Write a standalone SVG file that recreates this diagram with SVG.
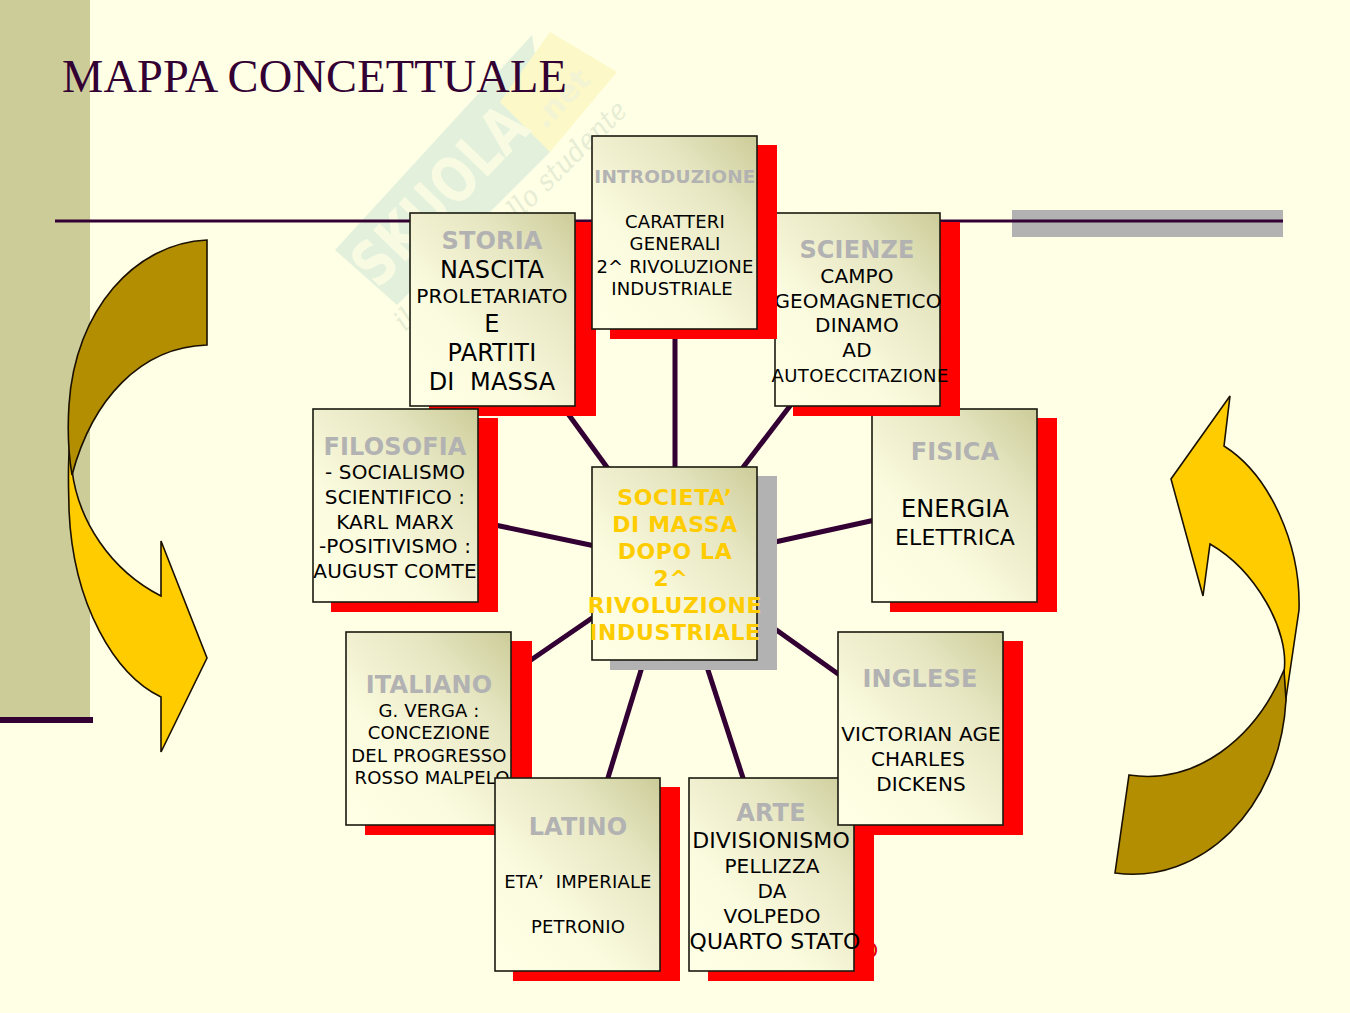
<svg xmlns="http://www.w3.org/2000/svg" width="1350" height="1013" viewBox="0 0 1350 1013">
<style>
text{font-family:"DejaVu Sans",sans-serif;text-anchor:middle;fill:#000;letter-spacing:.15px}
.h{font-weight:700;fill:#b2b2b2;font-size:24px}
.y{font-weight:700;fill:#ffcc00;font-size:22px;letter-spacing:.6px}
.s{fill:#ff0000}
.b{fill:url(#g);stroke:#1a1a10;stroke-width:1.6}
.c line{stroke:#330033;stroke-width:5}
.a{stroke:#1a1000;stroke-width:1.6;stroke-linejoin:miter}
</style>
<defs>
<linearGradient id="g" x1=".1" y1="1" x2="1" y2="0"><stop offset="0" stop-color="#ffffe5"/><stop offset=".3" stop-color="#fbfbdf"/><stop offset=".7" stop-color="#e6e6c2"/><stop offset="1" stop-color="#cccc99"/></linearGradient>
</defs>
<rect width="1350" height="1013" fill="#ffffe5"/>
<g id="watermark">
<polygon points="335,250 532,35 550,152 397,305" fill="#e2f0dc"/>
<polygon points="550,32 617,72 550,152 500,102" fill="#fcf8c8"/>
<text transform="translate(378,290) rotate(-46)" style="text-anchor:start;font-weight:700;font-size:62px;fill:#f8fbe2" textLength="222" lengthAdjust="spacingAndGlyphs">SKUOLA</text>
<text transform="translate(545,130) rotate(-46)" style="text-anchor:start;font-weight:700;font-size:30px;fill:#f2f4d4">.net</text>
<text transform="translate(405,332) rotate(-44.500)" style="text-anchor:start;font-family:'DejaVu Serif',serif;font-style:italic;font-size:28px;fill:#e6edd4" textLength="314" lengthAdjust="spacingAndGlyphs">il portale dello studente</text>
</g>
<rect x="0" y="0" width="90" height="717" fill="#cccc99"/>
<rect x="0" y="717" width="93" height="6" fill="#330033"/>
<rect x="1012" y="210" width="271" height="27" fill="#b2b2b2"/>
<rect x="55" y="219.500" width="1228" height="3" fill="#330033"/>
<text x="62" y="92" style="text-anchor:start;font-family:'Liberation Serif',serif;font-size:46px;fill:#330033" textLength="505" lengthAdjust="spacingAndGlyphs">MAPPA CONCETTUALE</text>
<g id="arrow-left">
<path class="a" fill="#ffcc00" d="M70,440C67,470 69,495 69,510C73,605 115,675 161,697V752L207,658L161,541V596C110,570 78,520 72,470Z"/>
<path class="a" fill="#b28e00" d="M207,240V345C140,347 92,400 72,475C67,445 68,420 69,405C75,310 135,243 207,240Z"/>
</g>
<g id="arrow-right">
<path class="a" fill="#ffcc00" d="M1230,396L1171,479L1203,596L1210,544C1255,570 1290,630 1284,672L1285,705L1299,610C1301,545 1270,475 1224,446Z"/>
<path class="a" fill="#b28e00" d="M1284,670C1255,740 1195,785 1129,775L1115,873C1200,885 1280,810 1286,700Z"/>
</g>
<g id="connectors" class="c">
<line x1="675" y1="335" x2="675" y2="470"/>
<line x1="566" y1="411" x2="609" y2="470"/>
<line x1="793" y1="402" x2="741" y2="470"/>
<line x1="495" y1="525" x2="595" y2="546"/>
<line x1="875" y1="520" x2="775" y2="542"/>
<line x1="528" y1="662" x2="595" y2="616"/>
<line x1="841" y1="676" x2="775" y2="629"/>
<line x1="607" y1="781" x2="642" y2="667"/>
<line x1="744" y1="781" x2="707" y2="667"/>
</g>
<g id="fisica">
<rect class="s" x="890" y="418" width="167" height="194"/><rect class="b" x="872" y="409" width="165" height="193"/>
<text class="h" x="955" y="460">FISICA</text>
<text x="955" y="517" font-size="24">ENERGIA</text>
<text x="955" y="545" font-size="22" textLength="120">ELETTRICA</text>
</g>
<g id="scienze">
<text x="871" y="392" font-size="18" style="fill:#cc0000" textLength="177">AUTOECCITAZIONE</text>
<rect class="s" x="793" y="222" width="167" height="194"/><rect class="b" x="775" y="213" width="165" height="193"/>
<text class="h" x="857" y="258">SCIENZE</text>
<text x="857" y="283" font-size="20">CAMPO</text>
<text x="858" y="308" font-size="20">GEOMAGNETICO</text>
<text x="857" y="332" font-size="20">DINAMO</text>
<text x="857" y="357" font-size="20">AD</text>
<text x="860" y="382" font-size="18" textLength="177">AUTOECCITAZIONE</text>
</g>
<g id="storia">
<rect class="s" x="429" y="222" width="167" height="194"/><rect class="b" x="410" y="213" width="165" height="193"/>
<text class="h" x="492" y="249">STORIA</text>
<text x="492" y="278" font-size="24" textLength="104">NASCITA</text>
<text x="492" y="303" font-size="20">PROLETARIATO</text>
<text x="492" y="332" font-size="24">E</text>
<text x="492" y="361" font-size="24">PARTITI</text>
<text x="492" y="390" font-size="24" xml:space="preserve">DI  MASSA</text>
</g>
<g id="filosofia">
<rect class="s" x="331" y="418" width="167" height="194"/><rect class="b" x="313" y="409" width="165" height="193"/>
<text class="h" x="395" y="455">FILOSOFIA</text>
<text x="395" y="479" font-size="20">- SOCIALISMO</text>
<text x="395" y="504" font-size="20">SCIENTIFICO :</text>
<text x="395" y="529" font-size="20">KARL MARX</text>
<text x="395" y="553" font-size="20">-POSITIVISMO :</text>
<text x="395" y="578" font-size="20">AUGUST COMTE</text>
</g>
<g id="introduzione">
<rect class="s" x="610" y="145" width="167" height="194"/><rect class="b" x="592" y="136" width="165" height="193"/>
<text class="h" x="675" y="183" style="font-size:18.500px">INTRODUZIONE</text>
<text x="675" y="228" font-size="18">CARATTERI</text>
<text x="675" y="250" font-size="18">GENERALI</text>
<text x="675" y="273" font-size="18">2^ RIVOLUZIONE</text>
<text x="672" y="295" font-size="18">INDUSTRIALE</text>
</g>
<g id="centro">
<rect x="610" y="476" width="167" height="194" fill="#b2b2b2"/><rect class="b" x="592" y="467" width="165" height="193"/>
<text class="y" x="675" y="505">SOCIETA’</text>
<text class="y" x="675" y="532">DI MASSA</text>
<text class="y" x="675" y="559">DOPO LA</text>
<text class="y" x="671" y="586">2^</text>
<text class="y" x="675" y="613">RIVOLUZIONE</text>
<text class="y" x="675" y="640">INDUSTRIALE</text>
</g>
<g id="italiano">
<rect class="s" x="365" y="641" width="167" height="194"/><rect class="b" x="346" y="632" width="165" height="193"/>
<text class="h" x="429" y="693">ITALIANO</text>
<text x="429" y="717" font-size="18">G. VERGA :</text>
<text x="429" y="739" font-size="18">CONCEZIONE</text>
<text x="429" y="762" font-size="18">DEL PROGRESSO</text>
<text x="432" y="784" font-size="18">ROSSO MALPELO</text>
</g>
<g id="latino">
<rect class="s" x="513" y="787" width="167" height="194"/><rect class="b" x="495" y="778" width="165" height="193"/>
<text class="h" x="578" y="835">LATINO</text>
<text x="578" y="888" font-size="18" xml:space="preserve">ETA’  IMPERIALE</text>
<text x="578" y="933" font-size="18">PETRONIO</text>
</g>
<g id="arte">
<text x="793" y="958" font-size="22" style="fill:#e00000" textLength="171" lengthAdjust="spacingAndGlyphs">QUARTO STATO</text>
<rect class="s" x="708" y="787" width="166" height="194"/><rect class="b" x="689" y="778" width="165" height="193"/>
<text class="h" x="771" y="821">ARTE</text>
<text x="771" y="848" font-size="22">DIVISIONISMO</text>
<text x="772" y="873" font-size="20">PELLIZZA</text>
<text x="772" y="898" font-size="20">DA</text>
<text x="772" y="923" font-size="20">VOLPEDO</text>
<text x="775" y="949" font-size="22" textLength="171" lengthAdjust="spacingAndGlyphs">QUARTO STATO</text>
</g>
<g id="inglese">
<rect class="s" x="857" y="641" width="166" height="194"/><rect class="b" x="838" y="632" width="165" height="193"/>
<text class="h" x="920" y="687">INGLESE</text>
<text x="921" y="741" font-size="20">VICTORIAN AGE</text>
<text x="918" y="766" font-size="20">CHARLES</text>
<text x="921" y="791" font-size="20">DICKENS</text>
</g>
</svg>
